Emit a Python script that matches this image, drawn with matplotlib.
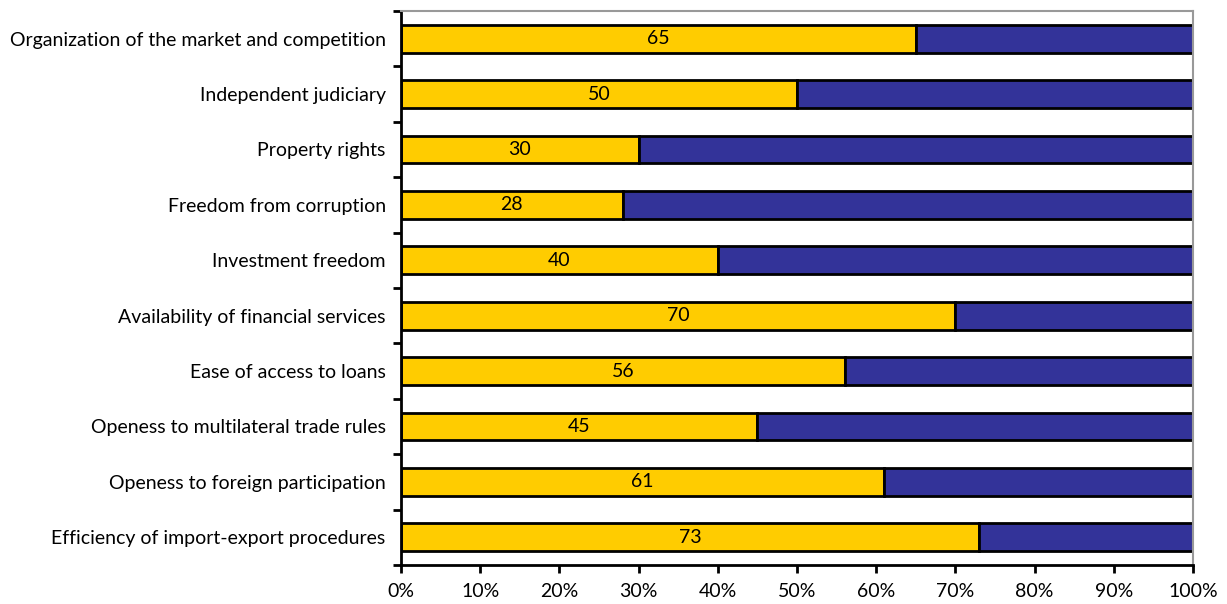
import matplotlib
matplotlib.use("Agg")
from matplotlib import pyplot as plt
from matplotlib.ticker import FuncFormatter, FixedLocator

categories = [
    "Organization of the market and competition",
    "Independent judiciary",
    "Property rights",
    "Freedom from corruption",
    "Investment freedom",
    "Availability of financial services",
    "Ease of access to loans",
    "Openess to multilateral trade rules",
    "Openess to foreign participation",
    "Efficiency of import-export procedures",
]
scores = [65, 50, 30, 28, 40, 70, 56, 45, 61, 73]
remainder = [100 - s for s in scores]

plt.rcParams["font.family"] = ["Lato", "DejaVu Sans"]

fig = plt.figure(figsize=(12.27, 6.04), dpi=100)
ax = fig.add_axes([401 / 1227, 39 / 604, 792 / 1227, 554 / 604])

y = list(range(len(categories)))
ax.barh(y, scores, height=0.5, color="#FFCC00", edgecolor="black", linewidth=2)
ax.barh(y, remainder, left=scores, height=0.5, color="#333399", edgecolor="black", linewidth=2)

for yi, s in zip(y, scores):
    ax.text(s / 2, yi, str(s), ha="center", va="center", fontsize=14, color="black")

ax.set_xlim(0, 100)
ax.set_ylim(len(categories) - 0.5, -0.5)
ax.set_yticks(y)
ax.set_yticklabels(categories, fontsize=14)
ax.yaxis.set_minor_locator(FixedLocator([i - 0.5 for i in range(len(categories) + 1)]))
ax.tick_params(axis="y", which="major", length=0, pad=11)
ax.tick_params(axis="y", which="minor", length=6, width=2)
ax.set_xticks(range(0, 101, 10))
ax.xaxis.set_major_formatter(FuncFormatter(lambda v, p: f"{int(v)}%"))
ax.tick_params(axis="x", length=6, width=2, labelsize=14, pad=7)

ax.spines["left"].set_linewidth(2)
ax.spines["bottom"].set_linewidth(2)
ax.spines["top"].set_color("#999999")
ax.spines["right"].set_color("#999999")
ax.spines["top"].set_linewidth(1.5)
ax.spines["right"].set_linewidth(1.5)

fig.savefig("out.png", dpi=100)
